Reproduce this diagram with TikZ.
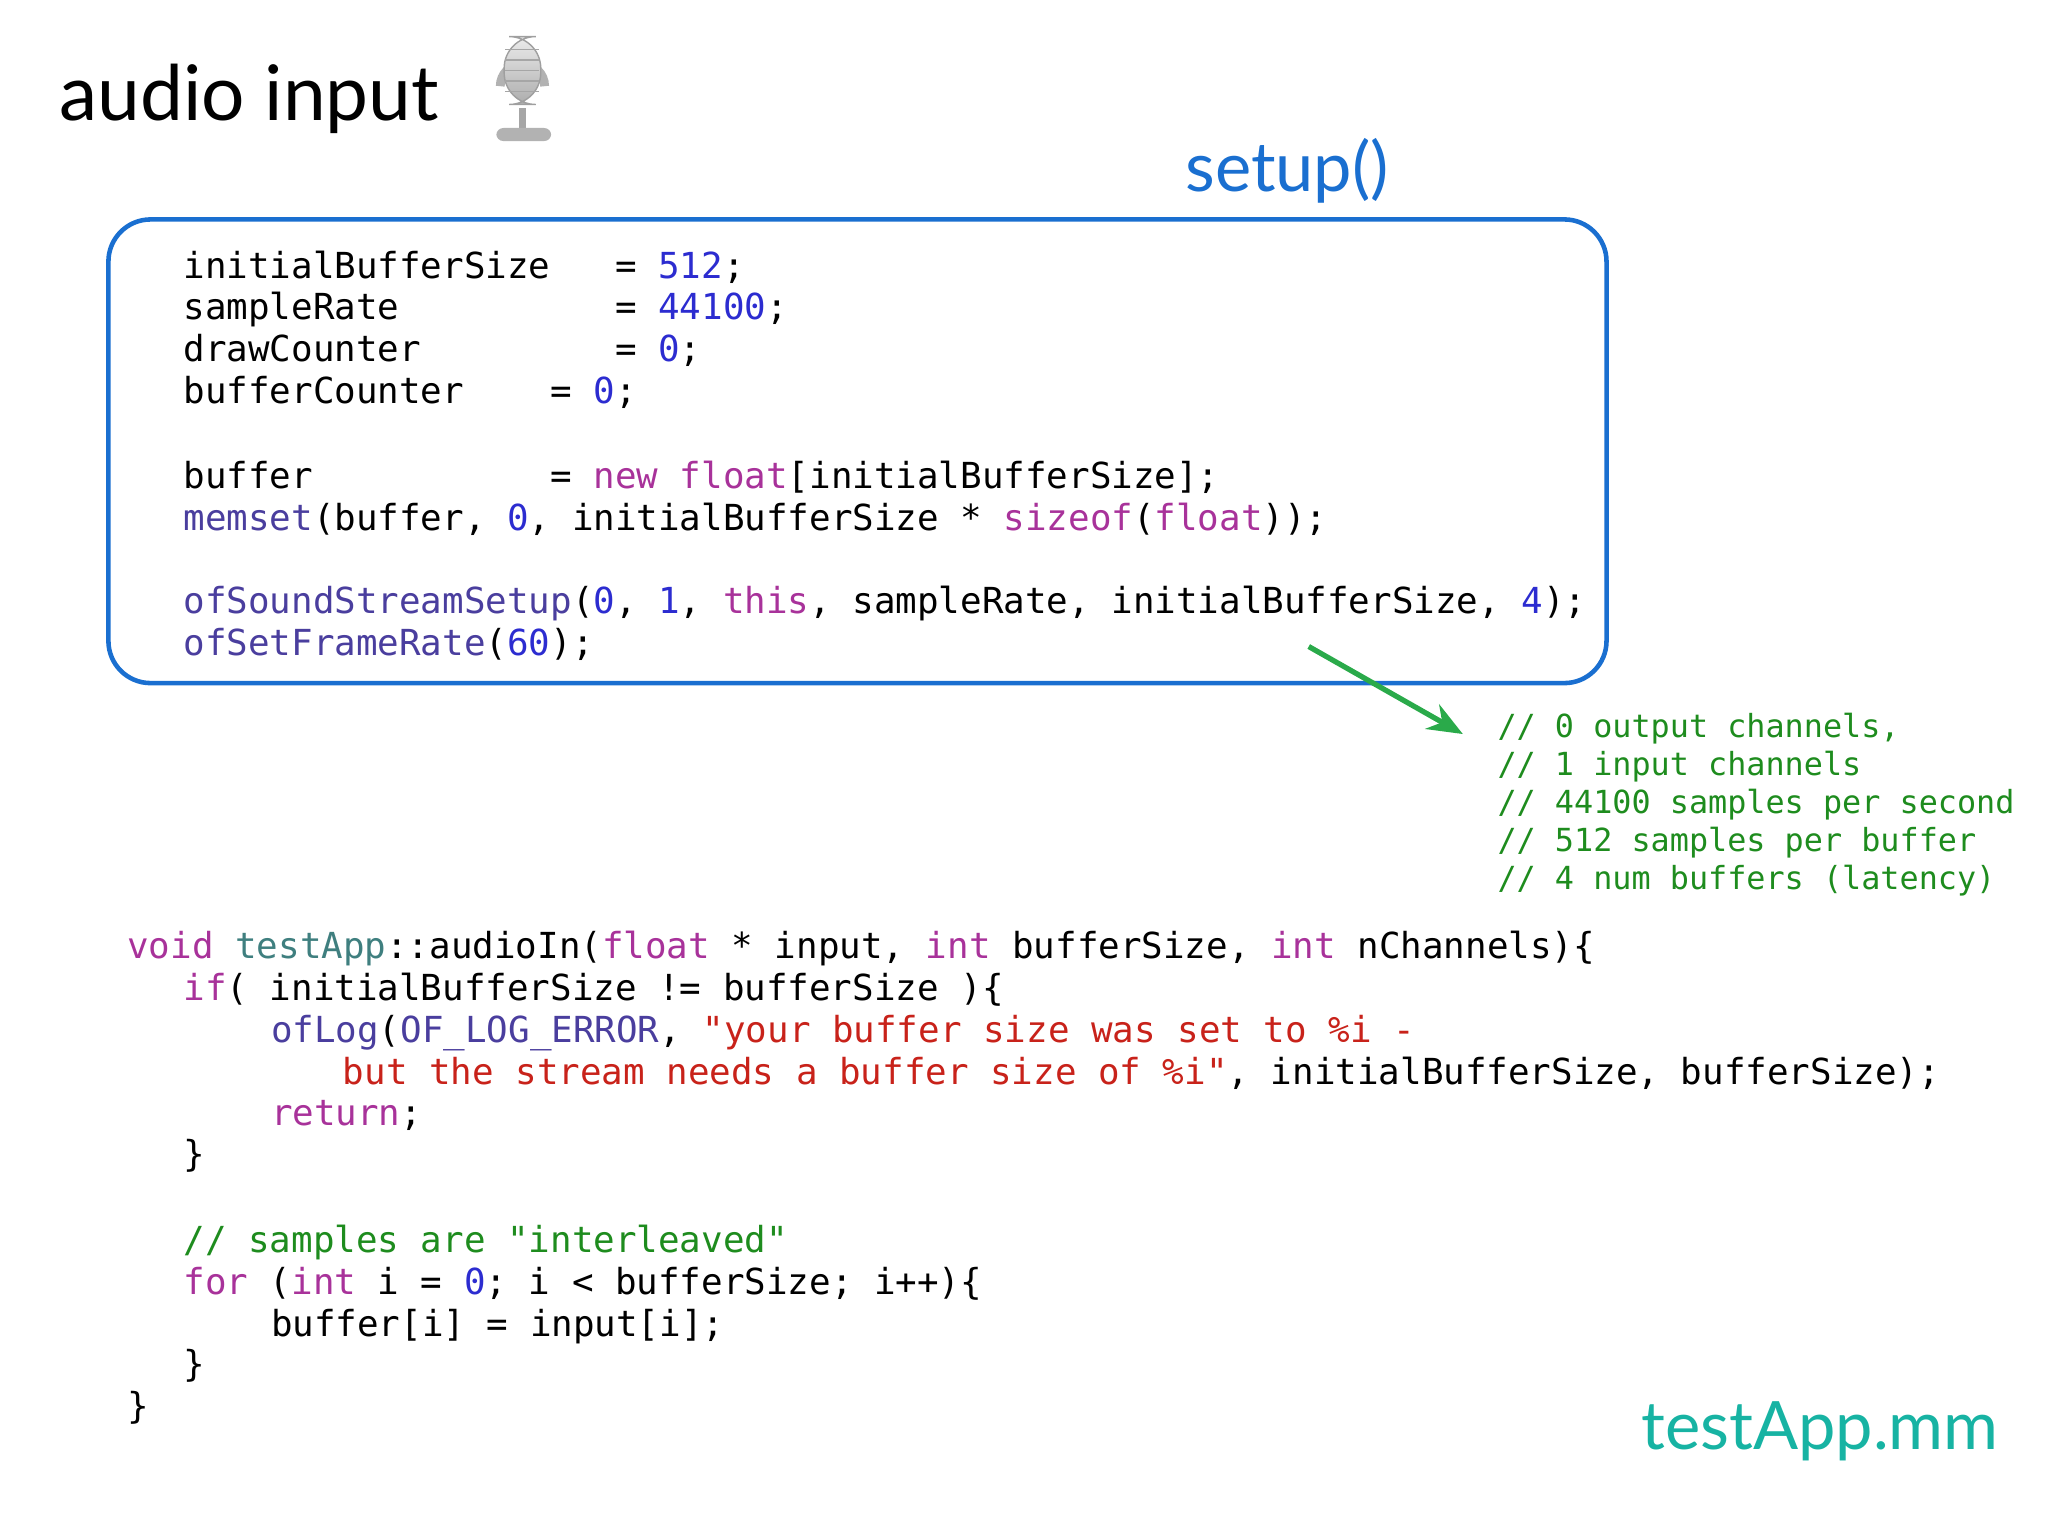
\documentclass[tikz,border=0pt]{standalone}
\usepackage{fontspec}
\usetikzlibrary{arrows.meta}
\setmainfont{Lato}
\setmonofont{DejaVu Sans Mono}
\definecolor{kw}{HTML}{A8329A}
\definecolor{num}{HTML}{2C2CD0}
\definecolor{fn}{HTML}{4A3E9E}
\definecolor{tcls}{HTML}{3F7F7F}
\definecolor{str}{HTML}{C8221A}
\definecolor{cmt}{HTML}{1E8C1E}
\definecolor{arr}{HTML}{2AAA4A}
\definecolor{setupblue}{HTML}{1A6FD0}
\definecolor{teal2}{HTML}{17B3A3}
\newcommand\K[1]{\textcolor{kw}{#1}}
\newcommand\N[1]{\textcolor{num}{#1}}
\newcommand\F[1]{\textcolor{fn}{#1}}
\newcommand\St[1]{\textcolor{str}{#1}}
\newcommand\Cm[1]{\textcolor{cmt}{#1}}
\tikzset{code/.style={anchor=base west,inner sep=0,font=\ttfamily\fontsize{10.2}{12}\selectfont},
cmtline/.style={anchor=base west,inner sep=0,text=cmt,font=\ttfamily\fontsize{9.05}{10}\selectfont}}
\begin{document}
\begin{tikzpicture}[x=0.01306cm,y=-0.01306cm]
\useasboundingbox (0,0) rectangle (1568,1176);
\node[anchor=base west,inner sep=0,font=\fontsize{21.8}{26}\selectfont] (title) at (45,92) {audio input};
% microphone
\begin{scope}
\draw[gray!60,line width=2.5pt] (383,66) arc[start angle=180,end angle=360,radius=17];
\fill[gray!70] (397,83) rectangle (403,100);
\fill[gray!60,rounded corners=2pt] (380,98) rectangle (422,108);
\shade[top color=gray!15,bottom color=gray!65,rounded corners=9pt,draw=gray!75] (386,28) rectangle (414,80);
\foreach \yy in {38,46,54,62,70} \draw[gray!70] (387,\yy) -- (413,\yy);
\end{scope}
\node[anchor=base west,inner sep=0,text=setupblue,font=\fontsize{19.5}{23}\selectfont] (setup) at (907,147) {setup()};
\draw[setupblue,line width=1.3pt,rounded corners=12pt] (83,168) rectangle (1230,523);
\node[code] (l1) at (140,213) {initialBufferSize~~~=~\N{512};};
\node[code] (l2) at (140,245) {sampleRate~~~~~~~~~~=~\N{44100};};
\node[code] (l3) at (140,277) {drawCounter~~~~~~~~~=~\N{0};};
\node[code] (l4) at (140,309) {bufferCounter~~~~=~\N{0};};
\node[code] (l5) at (140,374) {buffer~~~~~~~~~~~=~\K{new}~\K{float}[initialBufferSize];};
\node[code] (l6) at (140,406) {\F{memset}(buffer,~\N{0},~initialBufferSize~*~\K{sizeof}(\K{float}));};
\node[code] (l7) at (140,470) {\F{ofSoundStreamSetup}(\N{0},~\N{1},~\K{this},~sampleRate,~initialBufferSize,~\N{4});};
\node[code] (l8) at (140,502) {\F{ofSetFrameRate}(\N{60});};
\node[cmtline] (c1) at (1146,565) {//~0~output~channels,};
\node[cmtline] (c2) at (1146,594) {//~1~input~channels};
\node[cmtline] (c3) at (1146,623) {//~44100~samples~per~second};
\node[cmtline] (c4) at (1146,652) {//~512~samples~per~buffer};
\node[cmtline] (c5) at (1146,681) {//~4~num~buffers~(latency)};
\coordinate (as) at (1002,495);
\coordinate (ae) at (1120,562);
\draw[-{Stealth[length=10pt,width=8pt]},arr,line width=1.5pt] (as) -- (ae);
\node[code] (m1) at (97,734) {\K{void}~\textcolor{tcls}{testApp}::audioIn(\K{float}~*~input,~\K{int}~bufferSize,~\K{int}~nChannels)\{};
\node[code] (m2) at (140,766) {\K{if}(~initialBufferSize~!=~bufferSize~)\{};
\node[code] (m3) at (207,798) {\F{ofLog}(\F{OF\_LOG\_ERROR},~\St{"your~buffer~size~was~set~to~\%i~-}};
\node[code] (m4) at (262,830) {\St{but~the~stream~needs~a~buffer~size~of~\%i"},~initialBufferSize,~bufferSize);};
\node[code] (m5) at (207,862) {\K{return};};
\node[code] (m6) at (140,893) {\}};
\node[code] (m7) at (140,959) {\Cm{//~samples~are~"interleaved"}};
\node[code] (m8) at (140,991) {\K{for}~(\K{int}~i~=~\N{0};~i~<~bufferSize;~i++)\{};
\node[code] (m9) at (207,1023) {buffer[i]~=~input[i];};
\node[code] (m10) at (140,1054) {\}};
\node[code] (m11) at (97,1086) {\}};
\node[anchor=base west,inner sep=0,text=teal2,font=\fontsize{19}{22}\selectfont] (file) at (1256,1110) {testApp.mm};
\end{tikzpicture}
\end{document}
